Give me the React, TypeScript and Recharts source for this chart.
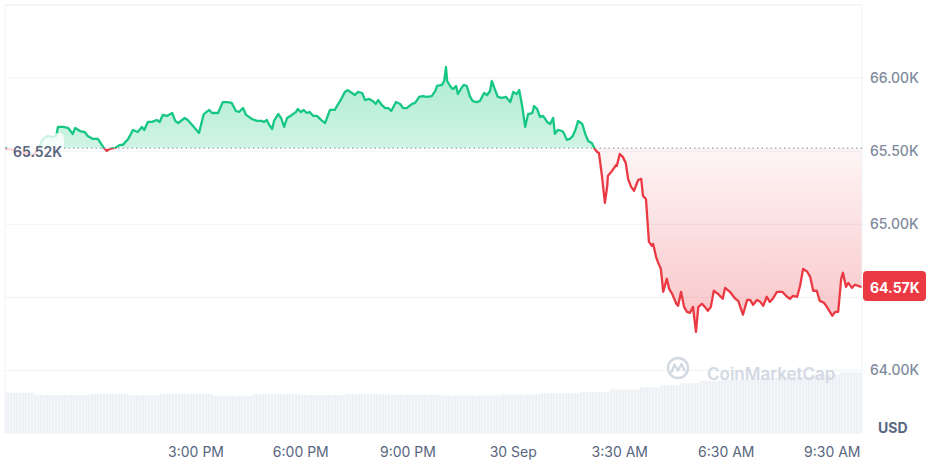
import React from 'react';
import { ComposedChart, Area, XAxis, YAxis, CartesianGrid, ReferenceLine } from 'recharts';

// minutes since chart start (≈ 9:40 AM, 29 Sep)
const minutes = [
  0, 12, 25, 37, 47, 55, 64, 71, 79, 86,
  89, 97, 106, 114, 118, 126, 134, 139, 148, 156,
  165, 171, 176, 185, 193, 198, 207, 215, 223, 230,
  234, 240, 247, 255, 260, 265, 272, 281, 286, 291,
  302, 307, 316, 326, 334, 343, 348, 358, 366, 373,
  381, 388, 393, 400, 405, 415, 423, 432, 435, 440,
  444, 449, 452, 459, 464, 469, 474, 482, 489, 492,
  497, 502, 507, 512, 518, 524, 533, 538, 546, 554,
  565, 571, 576, 583, 588, 593, 600, 605, 612, 618,
  623, 627, 633, 639, 644, 649, 657, 664, 669, 675,
  684, 689, 696, 702, 709, 717, 723, 726, 734, 738,
  741, 743, 749, 753, 758, 761, 768, 771, 776, 781,
  786, 793, 798, 805, 810, 815, 818, 823, 828, 835,
  842, 849, 854, 860, 864, 869, 874, 879, 886, 889,
  894, 899, 904, 911, 916, 921, 924, 929, 936, 939,
  944, 949, 954, 959, 963, 970, 975, 980, 986, 991,
  995, 998, 1003, 1008, 1012, 1013, 1020, 1027, 1028, 1033,
  1038, 1043, 1047, 1052, 1057, 1060, 1064, 1069, 1072, 1077,
  1082, 1087, 1089, 1094, 1097, 1102, 1106, 1112, 1116, 1121,
  1128, 1131, 1136, 1141, 1146, 1151, 1156, 1161, 1165, 1171,
  1176, 1181, 1186, 1191, 1198, 1206, 1210, 1218, 1227, 1232,
  1240, 1247, 1252, 1257, 1264, 1269, 1274, 1280, 1285, 1290,
  1297, 1306, 1314, 1319, 1324, 1331, 1336, 1341, 1348, 1353,
  1358, 1364, 1369, 1376, 1381, 1390, 1395, 1400, 1405, 1408,
  1413, 1417, 1423, 1428, 1440,
];

// BTC price, thousands of USD
const prices = [
  65.522, 65.508, 65.495, 65.481, 65.467, 65.515, 65.584, 65.604, 65.597, 65.604,
  65.666, 65.666, 65.659, 65.618, 65.659, 65.638, 65.631, 65.604, 65.584, 65.584,
  65.529, 65.502, 65.515, 65.522, 65.543, 65.543, 65.584, 65.645, 65.631, 65.666,
  65.645, 65.7, 65.7, 65.713, 65.7, 65.748, 65.741, 65.761, 65.707, 65.693,
  65.727, 65.713, 65.672, 65.625, 65.754, 65.782, 65.761, 65.761, 65.836, 65.836,
  65.83, 65.775, 65.768, 65.795, 65.748, 65.72, 65.707, 65.707, 65.7, 65.713,
  65.679, 65.652, 65.707, 65.754, 65.727, 65.666, 65.727, 65.748, 65.768, 65.789,
  65.768, 65.782, 65.761, 65.768, 65.741, 65.741, 65.707, 65.693, 65.782, 65.782,
  65.857, 65.905, 65.918, 65.898, 65.884, 65.905, 65.898, 65.85, 65.857, 65.843,
  65.823, 65.85, 65.816, 65.795, 65.795, 65.775, 65.836, 65.823, 65.795, 65.795,
  65.823, 65.83, 65.871, 65.877, 65.871, 65.877, 65.912, 65.946, 65.953, 65.98,
  66.076, 65.98, 65.939, 65.925, 65.946, 65.891, 65.939, 65.953, 65.946, 65.877,
  65.843, 65.836, 65.843, 65.898, 65.884, 65.912, 65.98, 65.925, 65.871, 65.864,
  65.871, 65.836, 65.905, 65.891, 65.918, 65.809, 65.666, 65.754, 65.761, 65.809,
  65.789, 65.734, 65.741, 65.7, 65.686, 65.727, 65.618, 65.645, 65.638, 65.625,
  65.577, 65.584, 65.604, 65.652, 65.707, 65.686, 65.618, 65.57, 65.556, 65.515,
  65.495, 65.488, 65.331, 65.146, 65.262, 65.331, 65.365, 65.406, 65.399, 65.481,
  65.461, 65.42, 65.31, 65.256, 65.228, 65.262, 65.303, 65.31, 65.194, 65.173,
  64.88, 64.852, 64.866, 64.777, 64.743, 64.695, 64.538, 64.627, 64.558, 64.524,
  64.456, 64.442, 64.538, 64.435, 64.401, 64.394, 64.435, 64.264, 64.435, 64.456,
  64.435, 64.408, 64.435, 64.545, 64.524, 64.49, 64.565, 64.538, 64.49, 64.476,
  64.381, 64.483, 64.483, 64.449, 64.483, 64.469, 64.442, 64.504, 64.469, 64.49,
  64.538, 64.538, 64.504, 64.49, 64.51, 64.504, 64.579, 64.695, 64.675, 64.64,
  64.545, 64.545, 64.476, 64.463, 64.435, 64.374, 64.401, 64.401, 64.627, 64.668,
  64.572, 64.599, 64.565, 64.586, 64.57,
];

// volume (billions USD) at step breakpoints
const volMinutes = [0, 50, 143, 207, 260, 350, 417, 496, 571, 647, 731, 832, 899, 966, 1017, 1067, 1101, 1134, 1168, 1201, 1252, 1302, 1353, 1403, 1440];
const volumes = [28.2, 26.6, 27.3, 26.4, 27.3, 26.1, 27.1, 26.6, 27.1, 26.8, 26.3, 27.0, 27.8, 29.0, 30.5, 32.0, 33.5, 34.8, 36.5, 37.5, 38.5, 39.5, 41.0, 42.5, 42.5];

const tickMinutes = [321, 497, 677, 854, 1033, 1212, 1390];
const tickLabels = ['3:00 PM', '6:00 PM', '9:00 PM', '30 Sep', '3:30 AM', '6:30 AM', '9:30 AM'];
const priceTicks = [64, 64.5, 65, 65.5, 66];
const hiddenTick = 64.5;
const openPrice = 65.52;
const lastPrice = 64.57;
const priceDomain: [number, number] = [63.572, 66.5];
const volDomain: [number, number] = [0, 300];

const rowMap = new Map<number, any>();
minutes.forEach((t, i) => rowMap.set(t, { t, price: prices[i] }));
volMinutes.forEach((t, i) => {
  const r = rowMap.get(t) || { t };
  r.vol = volumes[i];
  rowMap.set(t, r);
});
const data = Array.from(rowMap.values()).sort((a, b) => a.t - b.t);

const pMax = Math.max(...prices);
const pMin = Math.min(...prices);
const off = (pMax - openPrice) / (pMax - pMin);

const GREEN = '#16c784';
const RED = '#ea3943';

const OpenLabel = (props: any) => {
  const vb = props.viewBox || {};
  const x = vb.x;
  const y = vb.y;
  return (
    <g>
      <rect x={x + 2} y={y - 15} width={57} height={34} rx={4} fill="#ffffff" fillOpacity={0.78} />
      <text x={x + 8} y={y + 3} dominantBaseline="central" fontSize={14} fontWeight={600} fill="#58667e" fontFamily="Inter, sans-serif">
        {openPrice.toFixed(2)}K
      </text>
    </g>
  );
};

const LastTag = (props: any) => {
  const vb = props.viewBox || {};
  const x = vb.x + vb.width;
  const y = vb.y;
  return (
    <g>
      <rect x={x + 1} y={y - 16} width={63} height={30} rx={4} fill={RED} />
      <text x={x + 8} y={y} dominantBaseline="central" fontSize={14} fontWeight={700} fill="#ffffff" fontFamily="Inter, sans-serif">
        {lastPrice.toFixed(2)}K
      </text>
    </g>
  );
};

export default function App() {
  return (
    <div style={{ position: 'absolute', left: 0, top: 0, width: 935, height: 460, fontFamily: 'Inter, sans-serif', background: '#ffffff' }}>
      <ComposedChart width={935} height={460} data={data} margin={{ top: 5, right: 0, bottom: 0, left: 5 }}>
        <defs>
          <linearGradient id="strokeGrad" x1="0" y1="0" x2="0" y2="1">
            <stop offset={off} stopColor={GREEN} />
            <stop offset={off} stopColor={RED} />
          </linearGradient>
          <linearGradient id="fillGrad" x1="0" y1="0" x2="0" y2="1">
            <stop offset={0} stopColor={GREEN} stopOpacity={0.36} />
            <stop offset={off} stopColor={GREEN} stopOpacity={0.2} />
            <stop offset={off} stopColor={RED} stopOpacity={0.05} />
            <stop offset={1} stopColor={RED} stopOpacity={0.3} />
          </linearGradient>
          <pattern id="volPat" x="0" y="0" width="3" height="10" patternUnits="userSpaceOnUse">
            <rect x="0" y="0" width="3" height="10" fill="#edf0f4" />
            <rect x="0" y="0" width="1" height="10" fill="#f6f7f9" />
          </pattern>
        </defs>
        <CartesianGrid yAxisId="price" vertical={false} stroke="#eff2f5" />
        <XAxis
          type="number"
          dataKey="t"
          domain={[0, 1440]}
          ticks={tickMinutes}
          interval={0}
          tickFormatter={(v: number) => tickLabels[tickMinutes.indexOf(v)] ?? ''}
          axisLine={false}
          tickLine={false}
          tickSize={0}
          tickMargin={14}
          height={27}
          tick={{ fill: '#58667e', fontSize: 14 }}
        />
        <YAxis
          yAxisId="price"
          orientation="right"
          type="number"
          domain={priceDomain}
          ticks={priceTicks}
          interval={0}
          tickFormatter={(v: number) => (v === hiddenTick ? '' : `${v.toFixed(2)}K`)}
          axisLine={false}
          tickLine={false}
          tickSize={0}
          tickMargin={8}
          width={73}
          tick={{ fill: '#808a9d', fontSize: 14, fontWeight: 500 }}
        />
        <YAxis yAxisId="vol" hide type="number" domain={volDomain} />
        <Area
          yAxisId="vol"
          dataKey="vol"
          type="stepAfter"
          connectNulls
          stroke="none"
          fill="url(#volPat)"
          fillOpacity={1}
          isAnimationActive={false}
          dot={false}
          activeDot={false}
        />
        <Area
          yAxisId="price"
          dataKey="price"
          type="linear"
          connectNulls
          baseValue={openPrice}
          stroke="url(#strokeGrad)"
          strokeWidth={2.3}
          strokeLinejoin="round"
          fill="url(#fillGrad)"
          fillOpacity={1}
          isAnimationActive={false}
          dot={false}
          activeDot={false}
        />
        <ReferenceLine yAxisId="price" y={priceDomain[1]} stroke="#eff2f5" />
        <ReferenceLine yAxisId="price" x={0} stroke="#eff2f5" />
        <ReferenceLine yAxisId="price" x={1440} stroke="#eff2f5" />
        <ReferenceLine yAxisId="price" y={openPrice} stroke="#a7b1c2" strokeDasharray="1.5 3" strokeWidth={1.5} label={<OpenLabel />} />
        <ReferenceLine yAxisId="price" y={lastPrice} stroke="none" label={<LastTag />} />
      </ComposedChart>
      <svg width={935} height={460} style={{ position: 'absolute', left: 0, top: 0, pointerEvents: 'none' }}>
        <circle cx={678} cy={368} r={10} fill="none" stroke="#d3d9e3" strokeWidth={2.4} />
        <path d="M671.5 372 L674.5 364.5 L678 370.5 L681.5 364 L684.5 370.5" fill="none" stroke="#d3d9e3" strokeWidth={2.2} strokeLinejoin="round" strokeLinecap="round" />
        <text x={707} y={380} fontSize={17} fontWeight={600} fill="#d3d9e3" fontFamily="Inter, sans-serif">CoinMarketCap</text>
        <text x={878} y={433} fontSize={14} fontWeight={700} fill="#58667e" fontFamily="Inter, sans-serif">USD</text>
      </svg>
    </div>
  );
}
